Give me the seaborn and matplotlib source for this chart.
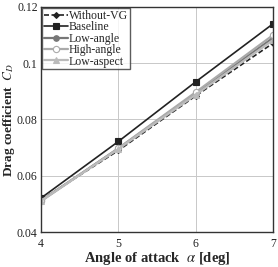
import pandas as pd
import matplotlib.pyplot as plt
import seaborn as sns

alpha = [4, 5, 6, 7]
without_vg = [0.0514, 0.0690, 0.0884, 0.1071]
baseline = [0.0521, 0.0722, 0.0934, 0.1140]
low_angle = [0.0512, 0.0697, 0.0893, 0.1090]
high_angle = [0.0510, 0.0698, 0.0897, 0.1100]
low_aspect = [0.0511, 0.0695, 0.0888, 0.1082]

series = {
    "Without-VG": without_vg,
    "Baseline": baseline,
    "Low-angle": low_angle,
    "High-angle": high_angle,
    "Low-aspect": low_aspect,
}

rows = []
for name, vals in series.items():
    for a, v in zip(alpha, vals):
        rows.append({"alpha": a, "cd": v, "case": name})
df = pd.DataFrame(rows)

sns.set_style("white")
plt.rcParams["font.family"] = ["Liberation Serif", "DejaVu Serif"]
plt.rcParams["mathtext.fontset"] = "stix"

styles = {
    "Without-VG": dict(color="#222222", ls=(0, (3, 1.5)), marker="D", ms=3, mfc="#222222", mec="#222222", lw=1.2),
    "Baseline": dict(color="#222222", ls="-", marker="s", ms=4.5, mfc="#222222", mec="#222222", lw=1.2),
    "Low-angle": dict(color="#777777", ls="-", marker="o", ms=4, mfc="#777777", mec="#777777", lw=1.6),
    "High-angle": dict(color="#aaaaaa", ls="-", marker="o", ms=4.5, mfc="white", mec="#aaaaaa", lw=1.6),
    "Low-aspect": dict(color="#bbbbbb", ls="-", marker="^", ms=4, mfc="#bbbbbb", mec="#bbbbbb", lw=1.6),
}

fig = plt.figure(figsize=(2.78, 2.67), dpi=100)
ax = fig.add_axes([0.148, 0.131, 0.834, 0.843])

for name in series:
    st = styles[name]
    sns.lineplot(data=df[df["case"] == name], x="alpha", y="cd", ax=ax,
                 color=st["color"], linestyle=st["ls"], linewidth=st["lw"],
                 marker=st["marker"], markersize=st["ms"],
                 markerfacecolor=st["mfc"], markeredgecolor=st["mec"],
                 markeredgewidth=0.8, label=name)

ax.set_xlim(4, 7)
ax.set_ylim(0.04, 0.12)
ax.set_xticks([4, 5, 6, 7])
ax.set_yticks([0.04, 0.06, 0.08, 0.1, 0.12])
ax.set_yticklabels(["0.04", "0.06", "0.08", "0.1", "0.12"])
ax.grid(True, color="#c8c8c8", lw=0.7)
ax.set_axisbelow(True)
for sp in ax.spines.values():
    sp.set_color("#333333")
    sp.set_linewidth(1.0)
ax.tick_params(labelsize=8.5, length=0, colors="#222222")
ax.tick_params(axis="x", pad=4.5)
ax.tick_params(axis="y", pad=2.5)

ax.set_xlabel(r"Angle of attack  $\alpha$ [deg]", fontsize=10.5, fontweight="bold", labelpad=0)
ax.set_ylabel(r"Drag coefficient  $C_D$", fontsize=9.5, fontweight="bold", labelpad=0)

leg = ax.legend(loc="upper left", fontsize=8.5, frameon=True, fancybox=False,
                borderpad=0.15, labelspacing=-0.05, handlelength=2.0,
                handletextpad=0.1, borderaxespad=0.1)
leg.get_frame().set_edgecolor("#333333")
leg.get_frame().set_linewidth(1.0)

fig.savefig("out.png", dpi=100)
